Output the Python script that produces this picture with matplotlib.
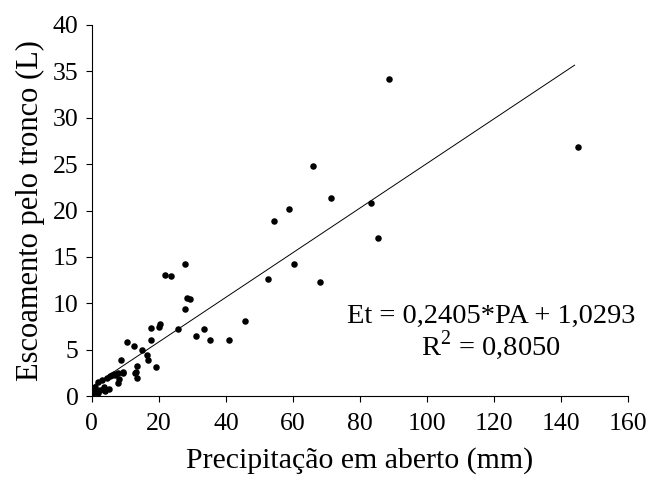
import matplotlib
matplotlib.use("Agg")
import matplotlib.pyplot as plt
import numpy as np

# dados: precipitacao em aberto (mm) x escoamento pelo tronco (L)
pa = [0.5, 1.0, 1.0, 2.0, 2.0, 2.5, 3.0, 3.5, 4.0, 4.5, 5.0, 5.5, 6.0, 6.5,
      7.0, 7.9, 7.9, 8.2, 8.7, 9.2, 9.4, 10.4, 12.7, 12.9, 13.2, 13.4, 13.6,
      14.9, 16.4, 16.9, 17.6, 17.8, 19.2, 19.9, 20.4, 21.9, 23.7, 25.7, 27.8,
      27.9, 28.5, 29.3, 31.0, 33.6, 35.2, 40.8, 45.7, 52.6, 54.2, 58.7, 60.2,
      65.9, 68.2, 71.4, 83.3, 85.5, 88.7, 145.1]
et = [0.3, 0.5, 1.0, 0.3, 1.5, 0.7, 1.7, 1.0, 0.5, 1.9, 0.8, 2.2, 2.3, 2.4,
      2.3, 1.4, 2.45, 1.8, 3.9, 2.6, 2.5, 5.85, 5.4, 2.5, 2.6, 3.3, 2.0,
      5.0, 4.4, 3.9, 7.3, 6.0, 3.1, 7.5, 7.8, 13.05, 12.9, 7.2, 14.2,
      9.35, 10.6, 10.5, 6.5, 7.2, 6.05, 6.1, 8.05, 12.6, 18.9, 20.2, 14.2,
      24.8, 12.3, 21.4, 20.8, 17.0, 34.2, 26.8]

coef_a = 0.2405
coef_b = 1.0293
r2_txt = "0,8050"
x_ticks = [0, 20, 40, 60, 80, 100, 120, 140, 160]
y_ticks = [0, 5, 10, 15, 20, 25, 30, 35, 40]

plt.rcParams['font.family'] = ['Liberation Serif', 'DejaVu Serif']
plt.rcParams['mathtext.fontset'] = 'custom'
plt.rcParams['mathtext.rm'] = 'Liberation Serif'

fig = plt.figure(figsize=(6.51, 4.79), dpi=100)
ax = fig.add_axes([0.141, 0.173, 0.824, 0.775])

ax.scatter(pa, et, s=22, color='black', zorder=3, linewidths=0)

# reta de regressao
xl = np.array([0, 144])
ax.plot(xl, coef_a * xl + coef_b, color='black', lw=0.7)

ax.text(119.0, 7.85, "Et = 0,2405*PA + 1,0293", ha='center', va='baseline',
        fontsize=20.5, clip_on=False)
ax.text(119.0, 4.45, "R$^{2}$ = " + r2_txt, ha='center', va='baseline', fontsize=20.5)

ax.set_xlim(0, 160)
ax.set_ylim(0, 40)
ax.set_xticks(x_ticks)
ax.set_yticks(y_ticks)
ax.tick_params(labelsize=18.5, direction='out', length=4.5, width=0.8)
ax.tick_params(axis='x', pad=8)
ax.tick_params(axis='y', pad=5)
for s in ['top', 'right']:
    ax.spines[s].set_visible(False)

ax.set_xlabel("Precipitação em aberto (mm)", fontsize=21.5, labelpad=8)
ax.set_ylabel("Escoamento pelo tronco (L)", fontsize=22, labelpad=6)

fig.savefig("out.png", dpi=100)
